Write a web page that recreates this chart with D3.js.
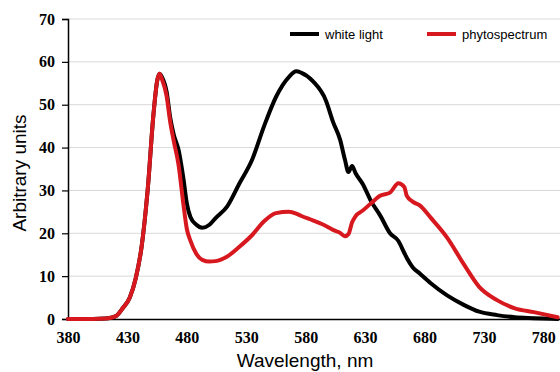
<!DOCTYPE html>
<html>
<head>
<meta charset="utf-8">
<script src="https://cdn.jsdelivr.net/npm/d3@7"></script>
<style>
  body { margin: 0; background: #fff; }
  svg { display: block; }
</style>
</head>
<body>
<svg id="chart" width="560" height="372"></svg>
<script>
// wavelengths (nm) shared by both spectra
var wavelengths = [380, 401, 411, 416, 421, 426, 432, 437, 442, 447, 452, 455, 457, 459, 463, 466, 469, 473, 477, 480, 483, 488, 493, 499, 504, 514, 524, 535, 545, 555, 566, 572, 576, 586, 597, 603, 609, 613, 616, 619, 622, 628, 635, 643, 651, 658, 663, 665, 670, 676, 685, 699, 713, 726, 741, 756, 772, 792];

var whiteLight = [0, 0, 0.1, 0.3, 0.8, 2.5, 5, 9.5, 17, 30, 48, 55.5, 57.2, 56.5, 53, 47, 43, 39.5, 33, 27, 23.8, 22, 21.3, 22, 23.5, 26.3, 31.5, 37.2, 45, 51.8, 56.5, 57.8, 57.5, 55.5, 51, 46, 41.8, 37.2, 34.3, 35.7, 34, 31.5, 27.5, 24, 20, 18.2, 15.4, 14.3, 12.1, 10.6, 8.4, 5.5, 3.3, 1.7, 0.9, 0.4, 0.2, 0];

var phytospectrum = [0, 0, 0.1, 0.3, 0.8, 2.5, 5, 9.5, 17, 30, 48, 55.5, 57.2, 56, 52, 46, 41.5, 36, 27, 21, 18.3, 15.2, 13.8, 13.4, 13.5, 14.6, 16.8, 19.6, 22.8, 24.7, 25, 24.6, 24.1, 23, 21.7, 20.8, 20.1, 19.3, 19.8, 22.5, 24, 25.3, 27, 28.8, 29.5, 31.7, 30.8, 28.8, 27.4, 26.5, 23.7, 19, 12.8, 7.5, 4.4, 2.5, 1.6, 0.4];

var xTicks = [380, 430, 480, 530, 580, 630, 680, 730, 780];
var yTicks = [0, 10, 20, 30, 40, 50, 60, 70];
var seriesNames = ["white light", "phytospectrum"];
var seriesColors = ["#000000", "#d7191f"];

var svg = d3.select("svg#chart");
var margin = {top: 19, right: 0, bottom: 53, left: 68},
    width = 560 - margin.left - margin.right,
    height = 372 - margin.top - margin.bottom;

var g = svg.append("g")
    .attr("transform", "translate(" + margin.left + "," + margin.top + ")");

var x = d3.scaleLinear().domain([380, 794]).range([0, width]);
var y = d3.scaleLinear().domain([0, 70]).range([height, 0]);

// gridlines
g.selectAll("line.grid")
    .data(yTicks.slice(1))
  .enter().append("line")
    .attr("class", "grid")
    .attr("x1", 0).attr("x2", width)
    .attr("y1", function(d) { return y(d); })
    .attr("y2", function(d) { return y(d); })
    .attr("stroke", "#d9d9d9")
    .attr("stroke-width", 1);

// y axis
var yAxis = g.append("g")
    .call(d3.axisLeft(y).tickValues(yTicks).tickSize(6).tickPadding(7).tickFormat(d3.format("d")));
yAxis.select(".domain").attr("stroke", "#000").attr("stroke-width", 1.5);
yAxis.selectAll(".tick line").attr("stroke", "#000").attr("stroke-width", 1.2);
yAxis.selectAll("text")
    .attr("font-family", "'Liberation Serif', 'Times New Roman', serif")
    .attr("font-weight", "bold")
    .attr("font-size", "16px")
    .attr("fill", "#000");

// x axis
var xAxis = g.append("g")
    .attr("transform", "translate(0," + height + ")")
    .call(d3.axisBottom(x).tickValues(xTicks).tickSize(0).tickPadding(13).tickFormat(d3.format("d")));
xAxis.select(".domain").attr("stroke", "#000").attr("stroke-width", 1.5);
xAxis.selectAll("text")
    .attr("font-family", "'Liberation Serif', 'Times New Roman', serif")
    .attr("font-weight", "bold")
    .attr("font-size", "16px")
    .attr("fill", "#000");

// spectra
var line = d3.line()
    .x(function(d) { return x(d[0]); })
    .y(function(d) { return y(d[1]); })
    .curve(d3.curveMonotoneX);

[whiteLight, phytospectrum].forEach(function(vals, i) {
  g.append("path")
      .datum(wavelengths.map(function(w, j) { return [w, vals[j]]; }))
      .attr("fill", "none")
      .attr("stroke", seriesColors[i])
      .attr("stroke-width", 4)
      .attr("stroke-linejoin", "round")
      .attr("stroke-linecap", "round")
      .attr("d", line);
});

// legend
var legendX = [290, 427];
seriesNames.forEach(function(name, i) {
  var lg = svg.append("g").attr("transform", "translate(" + legendX[i] + ",34)");
  lg.append("line")
      .attr("x1", 0).attr("x2", 29)
      .attr("y1", 0).attr("y2", 0)
      .attr("stroke", seriesColors[i])
      .attr("stroke-width", 4);
  lg.append("text")
      .attr("x", 35)
      .attr("y", 5)
      .attr("font-family", "'Liberation Sans Narrow', 'Liberation Sans', Arial, sans-serif")
      .attr("font-size", "13px")
      .attr("fill", "#000")
      .text(name);
});

// axis titles
svg.append("text")
    .attr("text-anchor", "middle")
    .attr("transform", "translate(26,173) rotate(-90)")
    .attr("font-family", "'Liberation Sans Narrow', 'Liberation Sans', Arial, sans-serif")
    .attr("font-size", "19px")
    .attr("fill", "#000")
    .text("Arbitrary units");

svg.append("text")
    .attr("text-anchor", "middle")
    .attr("x", 305)
    .attr("y", 367)
    .attr("font-family", "'Liberation Sans Narrow', 'Liberation Sans', Arial, sans-serif")
    .attr("font-size", "19px")
    .attr("fill", "#000")
    .text("Wavelength, nm");
</script>
</body>
</html>
